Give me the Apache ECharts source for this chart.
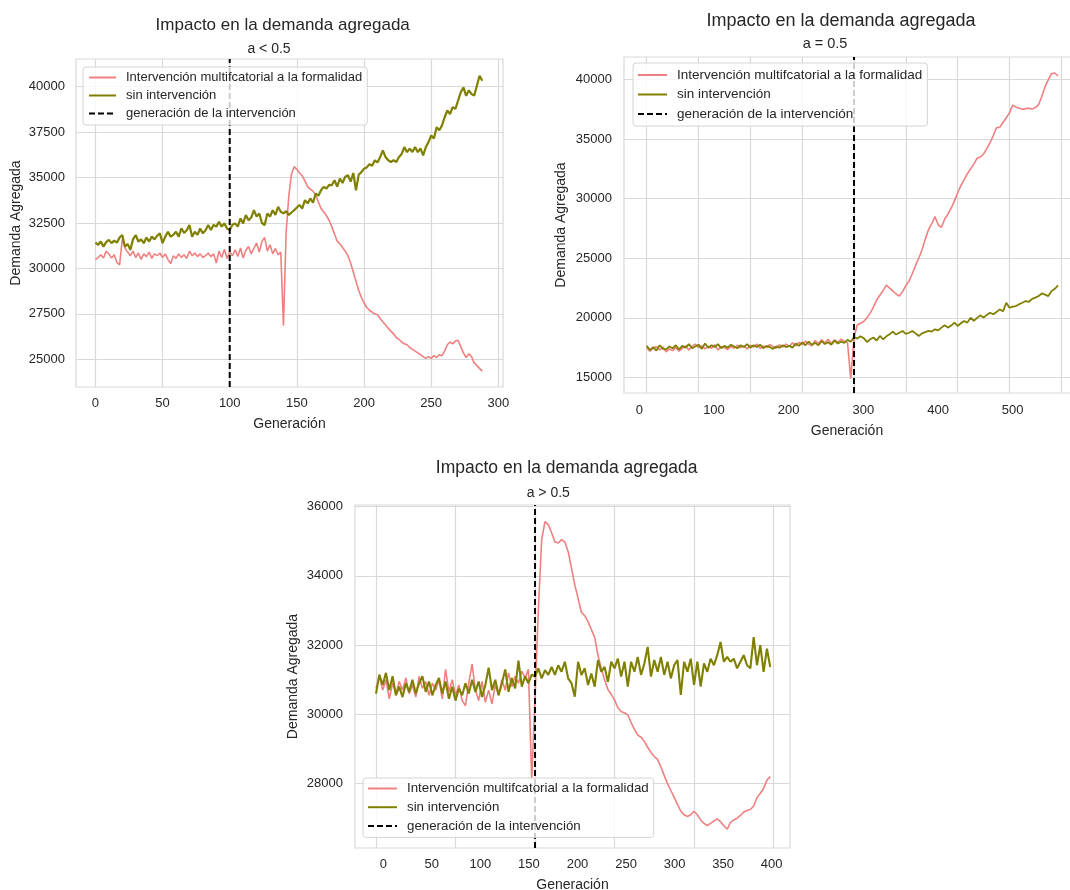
<!DOCTYPE html>
<html>
<head>
<meta charset="utf-8">
<script src="https://cdn.jsdelivr.net/npm/echarts@6/dist/echarts.min.js"></script>
<style>
html,body{margin:0;padding:0;background:#ffffff;}
#chart{width:1070px;height:890px;}
</style>
</head>
<body>
<div id="chart"></div>
<script>
// ---------------- DATA ----------------
const seriesNames = ['Intervención multifcatorial a la formalidad', 'sin intervención', 'generación de la intervención'];
const chartTitle = 'Impacto en la demanda agregada';
const subTitles = ['a < 0.5', 'a = 0.5', 'a > 0.5'];
const xAxisName = 'Generación';
const yAxisName = 'Demanda Agregada';

// panel 1 (a < 0.5): sampled every 2 generations from 0
const gen1Start = 0, gen1Step = 2;
const intervention1 = 100;
const red1 = [
30480,30600,30750,30570,30940,30800,30570,30750,30330,30200,
31620,31120,30900,30700,30950,30600,30850,30500,30800,30650,
30900,30550,30800,30700,30850,30600,30800,30500,30260,30700,
30550,30800,30600,30750,30550,30950,30700,30850,30650,30800,
30600,30700,30850,30650,30800,30300,30950,30600,31050,30550,
30900,30700,31030,30660,31120,30570,31000,31210,30800,31100,
31400,30900,31490,31710,30950,31300,30800,31100,30750,30900,
26850,32000,34000,35200,35600,35450,35250,35100,34800,34500,
34350,34250,34050,33650,33300,33100,32900,32650,32300,31900,
31500,31350,31150,30950,30700,30300,29800,29300,28800,28400,
28100,27850,27700,27600,27500,27450,27250,27050,26900,26700,
26550,26400,26200,26100,25950,25850,25800,25650,25550,25450,
25350,25250,25150,25050,25150,25050,25200,25100,25250,25200,
25450,25800,25950,25850,26000,26050,25700,25350,25100,25300,
25150,24800,24650,24500,24350];
const green1 = [
31420,31300,31480,31200,31450,31570,31390,31530,31420,31700,
31840,31200,31350,31020,31600,31840,31480,31600,31390,31700,
31480,31750,31600,31800,31930,31390,31750,32020,31750,31850,
32020,31750,32210,31950,32100,32390,31750,32020,31850,32200,
31930,32100,32390,32120,32400,32300,32570,32300,32480,32200,
32110,32400,32480,32300,32750,32480,32940,32650,32800,33210,
32850,33020,32500,32390,33020,32850,33200,32950,33390,33120,
33030,33150,32940,33080,33210,33350,33490,33300,33760,33580,
33850,33620,34120,34000,34300,34490,34400,34600,34580,34850,
34500,34950,34700,35050,35130,34780,35250,34300,35150,35300,
35490,35560,35740,35650,35950,35830,36130,36500,36130,35950,
35860,35950,35860,36130,36300,36680,36400,36590,36410,36680,
36400,36600,36220,36680,36950,37320,37150,37770,37600,37860,
38320,38690,38500,38870,38780,39230,39690,39960,39500,39800,
39600,39510,40050,40600,40330];
const xTicks1 = [0, 50, 100, 150, 200, 250, 300];
const xGrid1 = [0, 50, 100, 150, 200, 250, 300];
const yTicks1 = [25000, 27500, 30000, 32500, 35000, 37500, 40000];

// panel 2 (a = 0.5)
const gen2Start = 9.9, gen2Step = 4.3375;
const intervention2 = 287.5;
const red2 = [
17500,17200,17450,17600,17300,17550,17150,17400,17250,17500,
17200,17450,17650,17300,17600,17800,17500,17650,17400,17600,
17450,17750,17300,17600,17500,17350,17600,17450,17700,17500,
17650,17400,17700,17550,17800,17450,17650,17500,17750,17600,
17450,17750,17550,17800,17600,17900,17650,17950,17750,18050,
17800,17650,18100,17850,18150,17900,18200,17850,18150,17950,
18200,18050,17900,14900,
18300,19400,19550,19700,20000,20400,
20900,21500,21900,22300,22750,22500,22250,22000,21830,22200,
22700,23100,23700,24400,25000,25700,26600,27400,27900,28500,
27800,27600,28300,28700,29200,29800,30500,31100,31600,32100,
32500,32900,33400,33500,33750,34200,34700,35300,35950,36000,
36400,36800,37200,37850,37700,37600,37500,37550,37600,37520,
37650,37900,38600,39400,40000,40500,40550,40300];
const green2 = [
17650,17300,17550,17250,17700,17400,17350,17600,17450,17700,
17350,17650,17500,17800,17450,17600,17750,17400,17850,17500,
17700,17550,17800,17450,17650,17500,17750,17600,17450,17700,
17550,17800,17500,17700,17550,17750,17450,17650,17550,17400,
17600,17500,17700,17550,17650,17500,17850,17650,17950,17700,
18000,17750,17900,17700,18050,17800,17950,17750,18100,17850,
18000,17900,18150,18000,
18400,18260,18450,18300,17980,18200,
18350,18100,18480,18200,18450,18620,18850,18600,18750,18900,
18650,18750,18900,18700,18480,18700,18800,18900,18850,19040,
18950,19180,19380,19180,19350,19600,19320,19550,19740,19600,
20020,19740,20000,20210,20020,20250,20430,20300,20500,20710,
20550,21270,20850,20950,20990,21150,21270,21410,21350,21600,
21700,21830,22050,21950,21830,22250,22440,22720];
const xTicks2 = [0, 100, 200, 300, 400, 500];
const xGrid2 = [9.9, 79.3, 148.7, 218.1, 287.5, 356.9, 426.3, 495.7, 565.1];
const yTicks2 = [15000, 20000, 25000, 30000, 35000, 40000];

// panel 3 (a > 0.5)
const gen3Start = -7.5, gen3Step = 3.4117;
const intervention3 = 156.26;
const red3 = [
30750,31100,30700,31000,30450,30900,30600,30950,30700,31050,
30600,30850,30500,31100,30750,30950,30550,30900,30700,31000,
30450,31300,30650,31000,30550,30850,30400,30250,30900,31450,
30700,30400,30950,30350,30700,30300,30850,30550,31000,30700,
31200,30800,31100,30900,31250,31050,31300,28100,
30500,33000,
35050,35570,35480,35250,34980,34950,35050,34980,34700,34230,
33740,33350,32950,32850,32680,32450,32230,31700,31330,31000,
30720,30580,30420,30190,30080,30040,29990,29760,29570,29400,
29340,29220,29050,28900,28780,28700,28480,28230,28000,27800,
27600,27400,27200,27100,27050,27100,27200,27100,26950,26850,
26790,26850,26920,26980,26900,26780,26680,26880,26950,27000,
27080,27180,27220,27250,27350,27600,27720,27860,28100,28200];
const green3 = [
30600,31150,30850,31200,30700,31100,30550,30800,30500,30900,
30650,31000,30600,30900,31100,30650,30950,30550,30850,31050,
30600,30950,30450,30800,30400,30750,30550,30900,30600,31000,
30650,30950,30500,30850,31350,30700,31000,30550,30900,31300,
30650,31050,30750,31550,30800,31100,30900,31150,
31090,31330,31040,31280,31140,31370,31140,31420,31230,31520,
31040,30900,30510,31520,31140,31330,30850,31180,30800,31570,
31230,31370,30940,31520,31330,31610,31090,31520,30800,31520,
31230,31660,31140,31470,31950,31090,31570,31230,31660,31140,
31520,31040,31420,31570,30560,31520,31230,31610,30850,31520,
30800,31470,31230,31610,31420,31710,32090,31520,31660,31520,
31610,31330,31520,31710,31420,31330,32230,31420,32000,31230,
31900,31370];
const xTicks3 = [0, 50, 100, 150, 200, 250, 300, 350, 400];
const xGrid3 = [-7.5, 74.38, 156.26, 238.14, 320.02, 401.9];
const yTicks3 = [28000, 30000, 32000, 34000, 36000];

// ---------------- LAYOUT / STYLE ----------------
const FONT = '"Liberation Sans", Arial, Helvetica, sans-serif';
const TXT = '#262626';
const RED = '#F08080';
const OLIVE = '#808000';
const GRIDC = '#d9d9d9';

const panels = [
  { data: { red: red1, green: green1, start: gen1Start, step: gen1Step, interv: intervention1,
            xTicks: xTicks1, xGrid: xGrid1, yTicks: yTicks1, sub: subTitles[0] },
    grid: { left: 76, top: 59, width: 427, height: 328 },
    xRange: [-14.45, 303.45], yRange: [23475, 41525],
    title: [282.7, 25, 17], subT: [269, 49.5, 14],
    xNameGap: 30, yNameGap: 53, xLabMargin: 10, yLabMargin: 11, xNamePad: [0,0,0,0],
    legend: { left: 83, top: 67, padding: [4, 5, 5, 5], itemWidth: 27, itemGap: 5, fontSize: 13 },
    redW: 1.6, greenW: 2.2 },
  { data: { red: red2, green: green2, start: gen2Start, step: gen2Step, interv: intervention2,
            xTicks: xTicks2, xGrid: xGrid2, yTicks: yTicks2, sub: subTitles[1] },
    grid: { left: 624, top: 57, width: 455, height: 336 },
    xRange: [-20.5, 588.8], yRange: [13694, 41893],
    title: [841, 20.7, 18], subT: [825, 44, 14.5],
    xNameGap: 31, yNameGap: 56, xLabMargin: 11, yLabMargin: 12, xNamePad: [0,9,0,0],
    legend: { left: 633, top: 63, padding: [5, 5, 5, 4], itemWidth: 29, itemGap: 5.5, fontSize: 13.5 },
    redW: 1.6, greenW: 1.8 },
  { data: { red: red3, green: green3, start: gen3Start, step: gen3Step, interv: intervention3,
            xTicks: xTicks3, xGrid: xGrid3, yTicks: yTicks3, sub: subTitles[2] },
    grid: { left: 355, top: 505, width: 435, height: 343 },
    xRange: [-29.15, 418.85], yRange: [26139, 36049],
    title: [566.7, 468.3, 17.5], subT: [548.3, 493.3, 14],
    xNameGap: 30, yNameGap: 54.5, xLabMargin: 10, yLabMargin: 12, xNamePad: [0,0,0,0],
    legend: { left: 363, top: 778, padding: [4, 5, 5, 4], itemWidth: 29, itemGap: 5.7, fontSize: 13.3 },
    redW: 1.6, greenW: 2.1 }
];

const option = {
  animation: false,
  backgroundColor: '#ffffff',
  textStyle: { fontFamily: FONT },
  title: [], grid: [], xAxis: [], yAxis: [], legend: [], series: []
};

const fmt = v => String(v);

panels.forEach((P, k) => {
  const D = P.data;
  option.title.push({
    text: chartTitle, left: P.title[0], top: P.title[1], padding: 0,
    textAlign: 'center', textVerticalAlign: 'middle',
    textStyle: { fontSize: P.title[2], fontWeight: 'normal', color: TXT, fontFamily: FONT }
  });
  option.title.push({
    text: D.sub, left: P.subT[0], top: P.subT[1], padding: 0,
    textAlign: 'center', textVerticalAlign: 'middle',
    textStyle: { fontSize: P.subT[2], fontWeight: 'normal', color: TXT, fontFamily: FONT }
  });
  option.grid.push(Object.assign({
    show: true, borderColor: GRIDC, borderWidth: 1.2, backgroundColor: 'transparent',
    containLabel: false, outerBoundsMode: 'none'
  }, P.grid));
  option.xAxis.push({
    type: 'value', gridIndex: k, min: P.xRange[0], max: P.xRange[1],
    name: xAxisName, nameLocation: 'middle', nameGap: P.xNameGap,
    nameTextStyle: { fontSize: 14, color: TXT, fontFamily: FONT, padding: P.xNamePad },
    axisLine: { show: false },
    axisTick: { show: false, customValues: D.xGrid },
    axisLabel: { customValues: D.xTicks, margin: P.xLabMargin, fontSize: 13, color: TXT, fontFamily: FONT, formatter: fmt },
    splitLine: { show: true, lineStyle: { color: GRIDC, width: 1.2 } }
  });
  option.yAxis.push({
    type: 'value', gridIndex: k, min: P.yRange[0], max: P.yRange[1],
    name: yAxisName, nameLocation: 'middle', nameGap: P.yNameGap, nameRotate: 90,
    nameTextStyle: { fontSize: 14, color: TXT, fontFamily: FONT },
    axisLine: { show: false },
    axisTick: { show: false, customValues: D.yTicks },
    axisLabel: { customValues: D.yTicks, margin: P.yLabMargin, fontSize: 13, color: TXT, fontFamily: FONT, formatter: fmt },
    splitLine: { show: true, lineStyle: { color: GRIDC, width: 1.2 } }
  });
  option.series.push({
    name: seriesNames[0], type: 'line', xAxisIndex: k, yAxisIndex: k,
    data: D.red.map((v, i) => [D.start + i * D.step, v]),
    showSymbol: false, symbol: 'none', z: 2,
    lineStyle: { color: RED, width: P.redW }, itemStyle: { color: RED }
  });
  option.series.push({
    name: seriesNames[1], type: 'line', xAxisIndex: k, yAxisIndex: k,
    data: D.green.map((v, i) => [D.start + i * D.step, v]),
    showSymbol: false, symbol: 'none', z: 3,
    lineStyle: { color: OLIVE, width: P.greenW }, itemStyle: { color: OLIVE }
  });
  option.series.push({
    name: seriesNames[2], type: 'line', xAxisIndex: k, yAxisIndex: k,
    data: [[D.interv, P.yRange[0]], [D.interv, P.yRange[1]]],
    showSymbol: false, symbol: 'none', z: 4,
    lineStyle: { color: '#000000', width: 2, type: [6, 3] }, itemStyle: { color: '#000000' }
  });
  option.legend.push({
    data: seriesNames, orient: 'vertical',
    left: P.legend.left, top: P.legend.top, padding: P.legend.padding,
    itemWidth: P.legend.itemWidth, itemHeight: 14, itemGap: P.legend.itemGap,
    backgroundColor: 'rgba(255,255,255,0.8)', borderColor: '#d4d4d4', borderWidth: 1, borderRadius: 3,
    selectedMode: false, z: 10,
    itemStyle: { opacity: 0 },
    textStyle: { fontSize: P.legend.fontSize, color: TXT, fontFamily: FONT, padding: [0, 0, 0, 5] }
  });
});

const chart = echarts.init(document.getElementById('chart'), null, { renderer: 'canvas', width: 1070, height: 890 });
chart.setOption(option);
</script>
</body>
</html>
